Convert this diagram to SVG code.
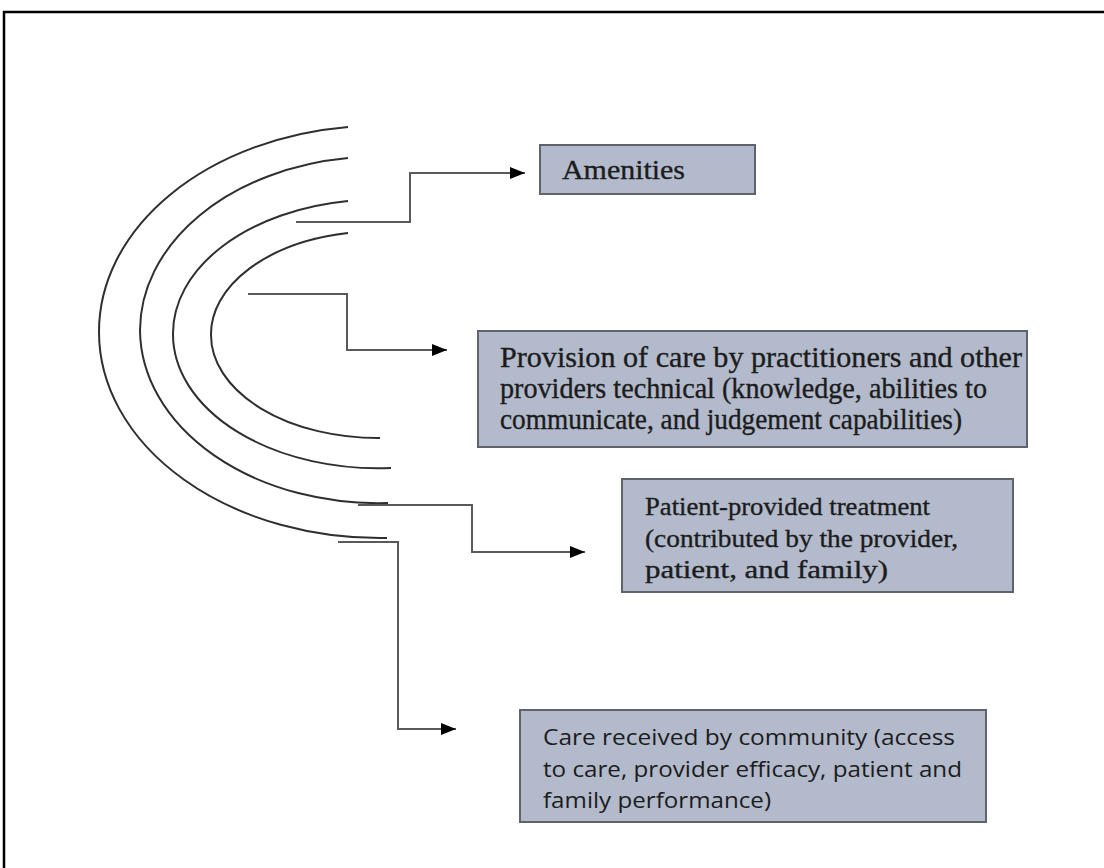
<svg xmlns="http://www.w3.org/2000/svg" width="1104" height="868" viewBox="0 0 1104 868">
<style>
.frame{fill:none;stroke:#000;stroke-width:2.5}
.arc{fill:none;stroke:#2f2f2f;stroke-width:2}
.conn{fill:none;stroke:#5a5a5a;stroke-width:2}
.box{fill:#b2bacb;stroke:#5f636a;stroke-width:2}
.serif{font-family:"Liberation Serif","Times New Roman",serif;fill:#1c1c1c;stroke:#1c1c1c;stroke-width:0.35}
.sans{font-family:"Open Sans","Liberation Sans",sans-serif;fill:#1c1c1c}
</style>
<defs>
<marker id="arr" viewBox="0 0 15 12" refX="15" refY="6" markerWidth="15" markerHeight="12" markerUnits="userSpaceOnUse" orient="auto">
<path d="M0,0 L15,6 L0,12 Z" fill="#000"/>
</marker>
</defs>
<rect width="1104" height="868" fill="#fff"/>
<path class="frame" d="M4,868 V12 H1104"/>
<g id="arcs">
<path class="arc" d="M348,127 A281,206 0 0 0 99,332 A281,206 0 0 0 387,538"/>
<path class="arc" d="M348,158 A238,174 0 0 0 140,331 A238,174 0 0 0 388,503"/>
<path class="arc" d="M348,201 A205,134 0 0 0 173,334 A205,134 0 0 0 391,468"/>
<path class="arc" d="M348,233 A167,103 0 0 0 211,335 A167,103 0 0 0 380,438"/>
</g>
<g id="connectors">
<path class="conn" d="M296,222 H410 V173 H525" marker-end="url(#arr)"/>
<path class="conn" d="M248,294 H347 V350 H447" marker-end="url(#arr)"/>
<path class="conn" d="M358,505 H472 V552 H585" marker-end="url(#arr)"/>
<path class="conn" d="M338,542 H398 V729 H456" marker-end="url(#arr)"/>
</g>
<g id="amenities">
<rect class="box" x="540" y="145" width="215" height="49"/>
<text class="serif" x="562" y="179" font-size="27" textLength="123" lengthAdjust="spacingAndGlyphs">Amenities</text>
</g>
<g id="provision">
<rect class="box" x="478" y="331" width="549" height="116"/>
<text class="serif" font-size="29">
<tspan x="500" y="367" textLength="522" lengthAdjust="spacingAndGlyphs">Provision of care by practitioners and other</tspan>
<tspan x="500" y="398" textLength="487" lengthAdjust="spacingAndGlyphs">providers technical (knowledge, abilities to</tspan>
<tspan x="500" y="429" textLength="462" lengthAdjust="spacingAndGlyphs">communicate, and judgement capabilities)</tspan>
</text>
</g>
<g id="patient">
<rect class="box" x="622" y="479" width="391" height="113"/>
<text class="serif" font-size="26">
<tspan x="645" y="515" textLength="285" lengthAdjust="spacingAndGlyphs">Patient-provided treatment</tspan>
<tspan x="645" y="547" textLength="313" lengthAdjust="spacingAndGlyphs">(contributed by the provider,</tspan>
<tspan x="645" y="578" textLength="243" lengthAdjust="spacingAndGlyphs">patient, and family)</tspan>
</text>
</g>
<g id="care">
<rect class="box" x="520" y="710" width="466" height="112"/>
<text class="sans" font-size="22">
<tspan x="543" y="745" textLength="412" lengthAdjust="spacingAndGlyphs">Care received by community (access</tspan>
<tspan x="543" y="777" textLength="419" lengthAdjust="spacingAndGlyphs">to care, provider efficacy, patient and</tspan>
<tspan x="543" y="808" textLength="228" lengthAdjust="spacingAndGlyphs">family performance)</tspan>
</text>
</g>
</svg>
